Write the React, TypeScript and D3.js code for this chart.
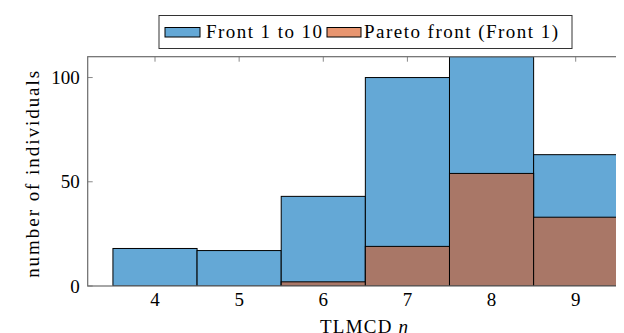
import React from "react";
import * as d3 from "d3";

const categories = [4, 5, 6, 7, 8, 9];
const allFronts = [18, 17, 43, 100, 110, 63];
const paretoFront = [0, 0, 2, 19, 54, 33];
const yTicks = [0, 50, 100];
const xLabel = "TLMCD ";
const yLabel = "number of individuals";
const legendLabels = ["Front 1 to 10", "Pareto front (Front 1)"];

const W = 624;
const H = 333;
const BLUE = "#64a8d6";
const ORANGE = "#e8956f";
const BROWN = "#a97767";
const BASE = 22;
const K = 19 / BASE;

function Label(props: { x: number; y: number; rotate?: number; anchor?: string; length?: number; children: React.ReactNode }) {
  const { x, y, rotate = 0, anchor = "start", length, children } = props;
  return (
    <g transform={`translate(${x},${y}) rotate(${rotate}) scale(${K})`}>
      <text x={0} y={0} fontSize={BASE} style={{ fontFamily: `"Liberation Serif"` }} textAnchor={anchor} fill="black"
        {...(length ? { textLength: length / K, lengthAdjust: "spacing" } : {})}>
        {children}
      </text>
    </g>
  );
}

export default function App() {
  const left = 79.7, right = 635, top = 48.7, bottom = 278;
  const x = d3.scaleLinear().domain([3.2, 9.8]).range([left, right]);
  const y = d3.scaleLinear().domain([0, 110]).range([bottom, top]);
  const axisColor = "#6b6b6b";
  return (
    <svg width={W} height={H}>
      <rect width={W} height={H} fill="white" />
      <defs>
        <clipPath id="plot">
          <rect x={left} y={top} width={right - left} height={bottom - top} />
        </clipPath>
      </defs>
      {categories.map((c) => (
        <g key={"xt" + c}>
          <line x1={x(c)} x2={x(c)} y1={bottom} y2={bottom - 5} stroke={axisColor} strokeWidth={0.8} />
          <line x1={x(c)} x2={x(c)} y1={top} y2={top + 5} stroke={axisColor} strokeWidth={0.8} />
        </g>
      ))}
      {yTicks.map((t) => (
        <g key={"yt" + t}>
          <line x1={left} x2={left + 5} y1={y(t)} y2={y(t)} stroke={axisColor} strokeWidth={0.8} />
          <line x1={right} x2={right - 5} y1={y(t)} y2={y(t)} stroke={axisColor} strokeWidth={0.8} />
        </g>
      ))}
      <g clipPath="url(#plot)">
        {categories.map((c, i) => (
          <rect key={"b" + c} x={x(c - 0.5)} y={y(allFronts[i])} width={x(c + 0.5) - x(c - 0.5)}
            height={y(0) - y(allFronts[i])} fill={BLUE} stroke="black" strokeWidth={1} />
        ))}
        {categories.map((c, i) =>
          paretoFront[i] > 0 ? (
            <rect key={"p" + c} x={x(c - 0.5)} y={y(paretoFront[i])} width={x(c + 0.5) - x(c - 0.5)}
              height={y(0) - y(paretoFront[i])} fill={BROWN} stroke="black" strokeWidth={1} />
          ) : null
        )}
      </g>
      <rect x={left} y={top} width={right - left} height={bottom - top} fill="none" stroke={axisColor} strokeWidth={1.2} />
      {categories.map((c) => (
        <Label key={"xl" + c} x={x(c)} y={298} anchor="middle">{c}</Label>
      ))}
      {yTicks.map((t) => (
        <Label key={"yl" + t} x={left - 8} y={y(t) + 6.5} anchor="end">{t}</Label>
      ))}
      <Label x={312} y={325} length={88}>
        {xLabel}<tspan fontStyle="italic">η</tspan>
      </Label>
      <Label x={31} y={(top + bottom) / 2 + 3} rotate={-90} anchor="middle" length={207}>{yLabel}</Label>
      <rect x={151} y={7.5} width={413} height={33} fill="white" stroke="#333" strokeWidth={1} />
      <rect x={157} y={19.5} width={35} height={9.5} fill={BLUE} stroke="black" strokeWidth={1} />
      <Label x={198} y={30} length={116}>{legendLabels[0]}</Label>
      <rect x={319} y={19.5} width={34} height={9.5} fill={ORANGE} stroke="black" strokeWidth={1} />
      <Label x={356} y={30} length={194}>{legendLabels[1]}</Label>
    </svg>
  );
}
